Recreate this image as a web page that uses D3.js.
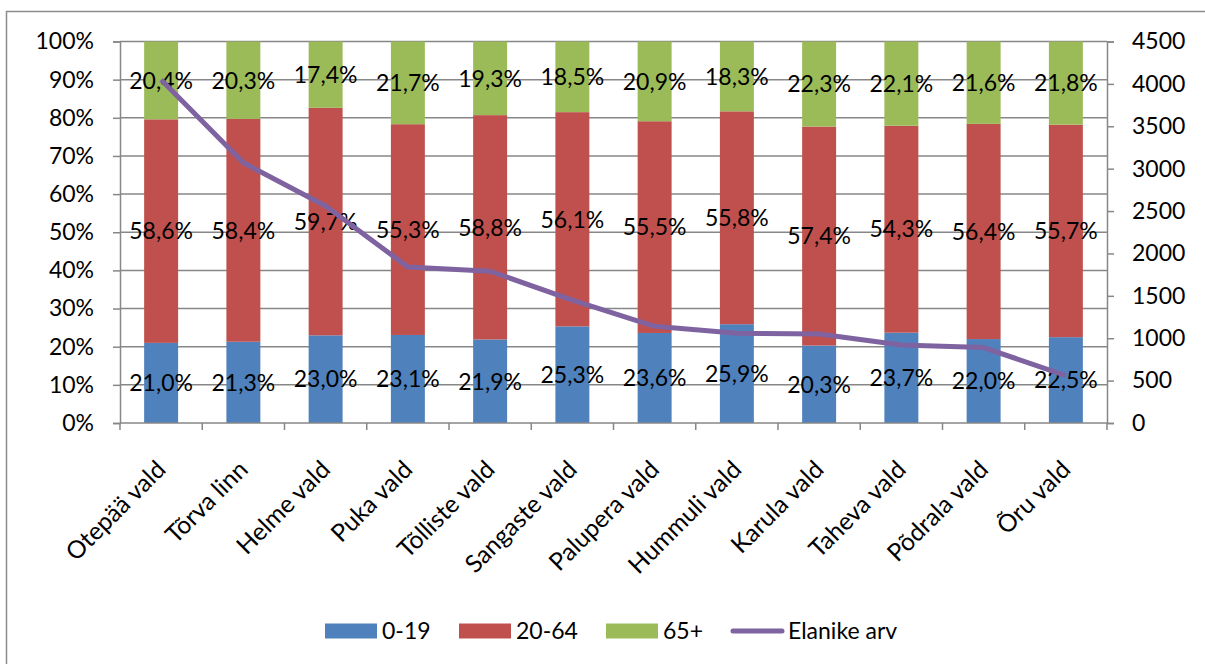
<!DOCTYPE html>
<html>
<head>
<meta charset="utf-8">
<script src="https://cdn.jsdelivr.net/npm/d3@7"></script>
<style>
  html, body { margin: 0; padding: 0; background: #fff; }
  svg { display: block; }
  text { font-family: Lato, "Open Sans", sans-serif; fill: #000; }
</style>
</head>
<body>
<svg id="chart" width="1205" height="664"></svg>
<script>
const categories = ["Otepää vald","Tõrva linn","Helme vald","Puka vald","Tõlliste vald","Sangaste vald","Palupera vald","Hummuli vald","Karula vald","Taheva vald","Põdrala vald","Õru vald"];
const age0to19  = [21.0,21.3,23.0,23.1,21.9,25.3,23.6,25.9,20.3,23.7,22.0,22.5];
const age20to64 = [58.6,58.4,59.7,55.3,58.8,56.1,55.5,55.8,57.4,54.3,56.4,55.7];
const age65plus = [20.4,20.3,17.4,21.7,19.3,18.5,20.9,18.3,22.3,22.1,21.6,21.8];
const population = [4050,3070,2560,1840,1790,1450,1140,1060,1050,920,890,560];
const seriesNames = ["0-19","20-64","65+"];
const lineName = "Elanike arv";
const leftTicks = [0,0.1,0.2,0.3,0.4,0.5,0.6,0.7,0.8,0.9,1.0];
const rightTicks = [0,500,1000,1500,2000,2500,3000,3500,4000,4500];

const colors = ["#4F81BD","#C0504D","#9BBB59"];
const lineColor = "#7F63A1";
const gridColor = "#878787";

const svg = d3.select("#chart");
const L = 120, R = 1107, T = 41.5, B = 423;
const FS = 23;

// outer chart border (right/bottom off-canvas)
svg.append("rect").attr("x",6.5).attr("y",11.5).attr("width",1300).attr("height",800)
  .attr("fill","none").attr("stroke","#8c8c8c").attr("stroke-width",1.5);

const rows = categories.map((c,i)=>({cat:c, "0-19":age0to19[i], "20-64":age20to64[i], "65+":age65plus[i]}));
const stack = d3.stack().keys(seriesNames).offset(d3.stackOffsetExpand);
const stacked = stack(rows);

const pad = 0.587;
const x = d3.scaleBand().domain(categories).range([L,R]).paddingInner(pad).paddingOuter(pad/2);
const xb = d3.scaleLinear().domain([0,categories.length]).range([L,R]);
const y = d3.scaleLinear().domain([0,1]).range([B,T]);
const y2 = d3.scaleLinear().domain([0,4500]).range([B,T]);

// gridlines
svg.append("g").selectAll("line").data(leftTicks.slice(1)).join("line")
  .attr("x1",L).attr("x2",R).attr("y1",d=>y(d)).attr("y2",d=>y(d))
  .attr("stroke",gridColor).attr("stroke-width",1.5);

// bars
const gBars = svg.append("g");
stacked.forEach((s,si)=>{
  gBars.append("g").selectAll("rect").data(s).join("rect")
    .attr("x",d=>x(d.data.cat))
    .attr("width",x.bandwidth())
    .attr("y",d=>y(d[1]))
    .attr("height",d=>y(d[0])-y(d[1]))
    .attr("fill",colors[si]);
});

// left axis
const axL = svg.append("g").attr("transform",`translate(${L},0)`)
  .call(d3.axisLeft(y).tickValues(leftTicks).tickFormat(d=>Math.round(d*100)+"%").tickSize(7).tickPadding(19));
// right axis
const axR = svg.append("g").attr("transform",`translate(${R},0)`)
  .call(d3.axisRight(y2).tickValues(rightTicks).tickFormat(d3.format("d")).tickSize(7).tickPadding(18));
[axL,axR].forEach(a=>{
  a.select(".domain").attr("stroke",gridColor).attr("stroke-width",1.5);
  a.selectAll(".tick line").attr("stroke",gridColor).attr("stroke-width",1.5);
  a.selectAll(".tick text").attr("font-size",FS).attr("font-family","Lato, sans-serif").attr("fill","#000");
});

// bottom axis line + boundary ticks
svg.append("line").attr("x1",L).attr("x2",R).attr("y1",B).attr("y2",B).attr("stroke",gridColor).attr("stroke-width",1.5);
svg.append("g").selectAll("line").data(d3.range(categories.length+1)).join("line")
  .attr("x1",d=>xb(d)).attr("x2",d=>xb(d)).attr("y1",B).attr("y2",B+7)
  .attr("stroke",gridColor).attr("stroke-width",1.5);

// category labels
svg.append("g").selectAll("text").data(categories).join("text")
  .attr("transform",d=>`translate(${x(d)+x.bandwidth()/2+6},${B+48}) rotate(-45)`)
  .attr("text-anchor","end").attr("font-size",24.5).text(d=>d);

// data labels
const gLab = svg.append("g");
stacked.forEach((s,si)=>{
  const vals = [age0to19,age20to64,age65plus][si];
  gLab.append("g").selectAll("text").data(s).join("text")
    .attr("x",d=>x(d.data.cat)+x.bandwidth()/2)
    .attr("y",d=>y((d[0]+d[1])/2))
    .attr("dy","0.36em")
    .attr("text-anchor","middle").attr("font-size",FS)
    .text((d,i)=>vals[i].toFixed(1).replace(".",",")+"%");
});

// line
const line = d3.line().x((d,i)=>x(categories[i])+x.bandwidth()/2).y(d=>y2(d));
svg.append("path").datum(population).attr("d",line)
  .attr("fill","none").attr("stroke",lineColor).attr("stroke-width",5)
  .attr("stroke-linejoin","round");

// legend
const lg = svg.append("g");
const legendItems = [
  {name:seriesNames[0], type:"rect", color:colors[0], x:325},
  {name:seriesNames[1], type:"rect", color:colors[1], x:459},
  {name:seriesNames[2], type:"rect", color:colors[2], x:606},
  {name:lineName, type:"line", color:lineColor, x:731}
];
const ly = 631;
legendItems.forEach(it=>{
  if(it.type==="rect"){
    lg.append("rect").attr("x",it.x).attr("y",ly-7.5).attr("width",52).attr("height",15).attr("fill",it.color);
  } else {
    lg.append("line").attr("x1",it.x+2).attr("x2",it.x+51).attr("y1",ly).attr("y2",ly)
      .attr("stroke",it.color).attr("stroke-width",5).attr("stroke-linecap","round");
  }
  lg.append("text").attr("x",it.x+57).attr("y",ly).attr("dy","0.36em").attr("font-size",FS).text(it.name);
});
</script>
</body>
</html>
